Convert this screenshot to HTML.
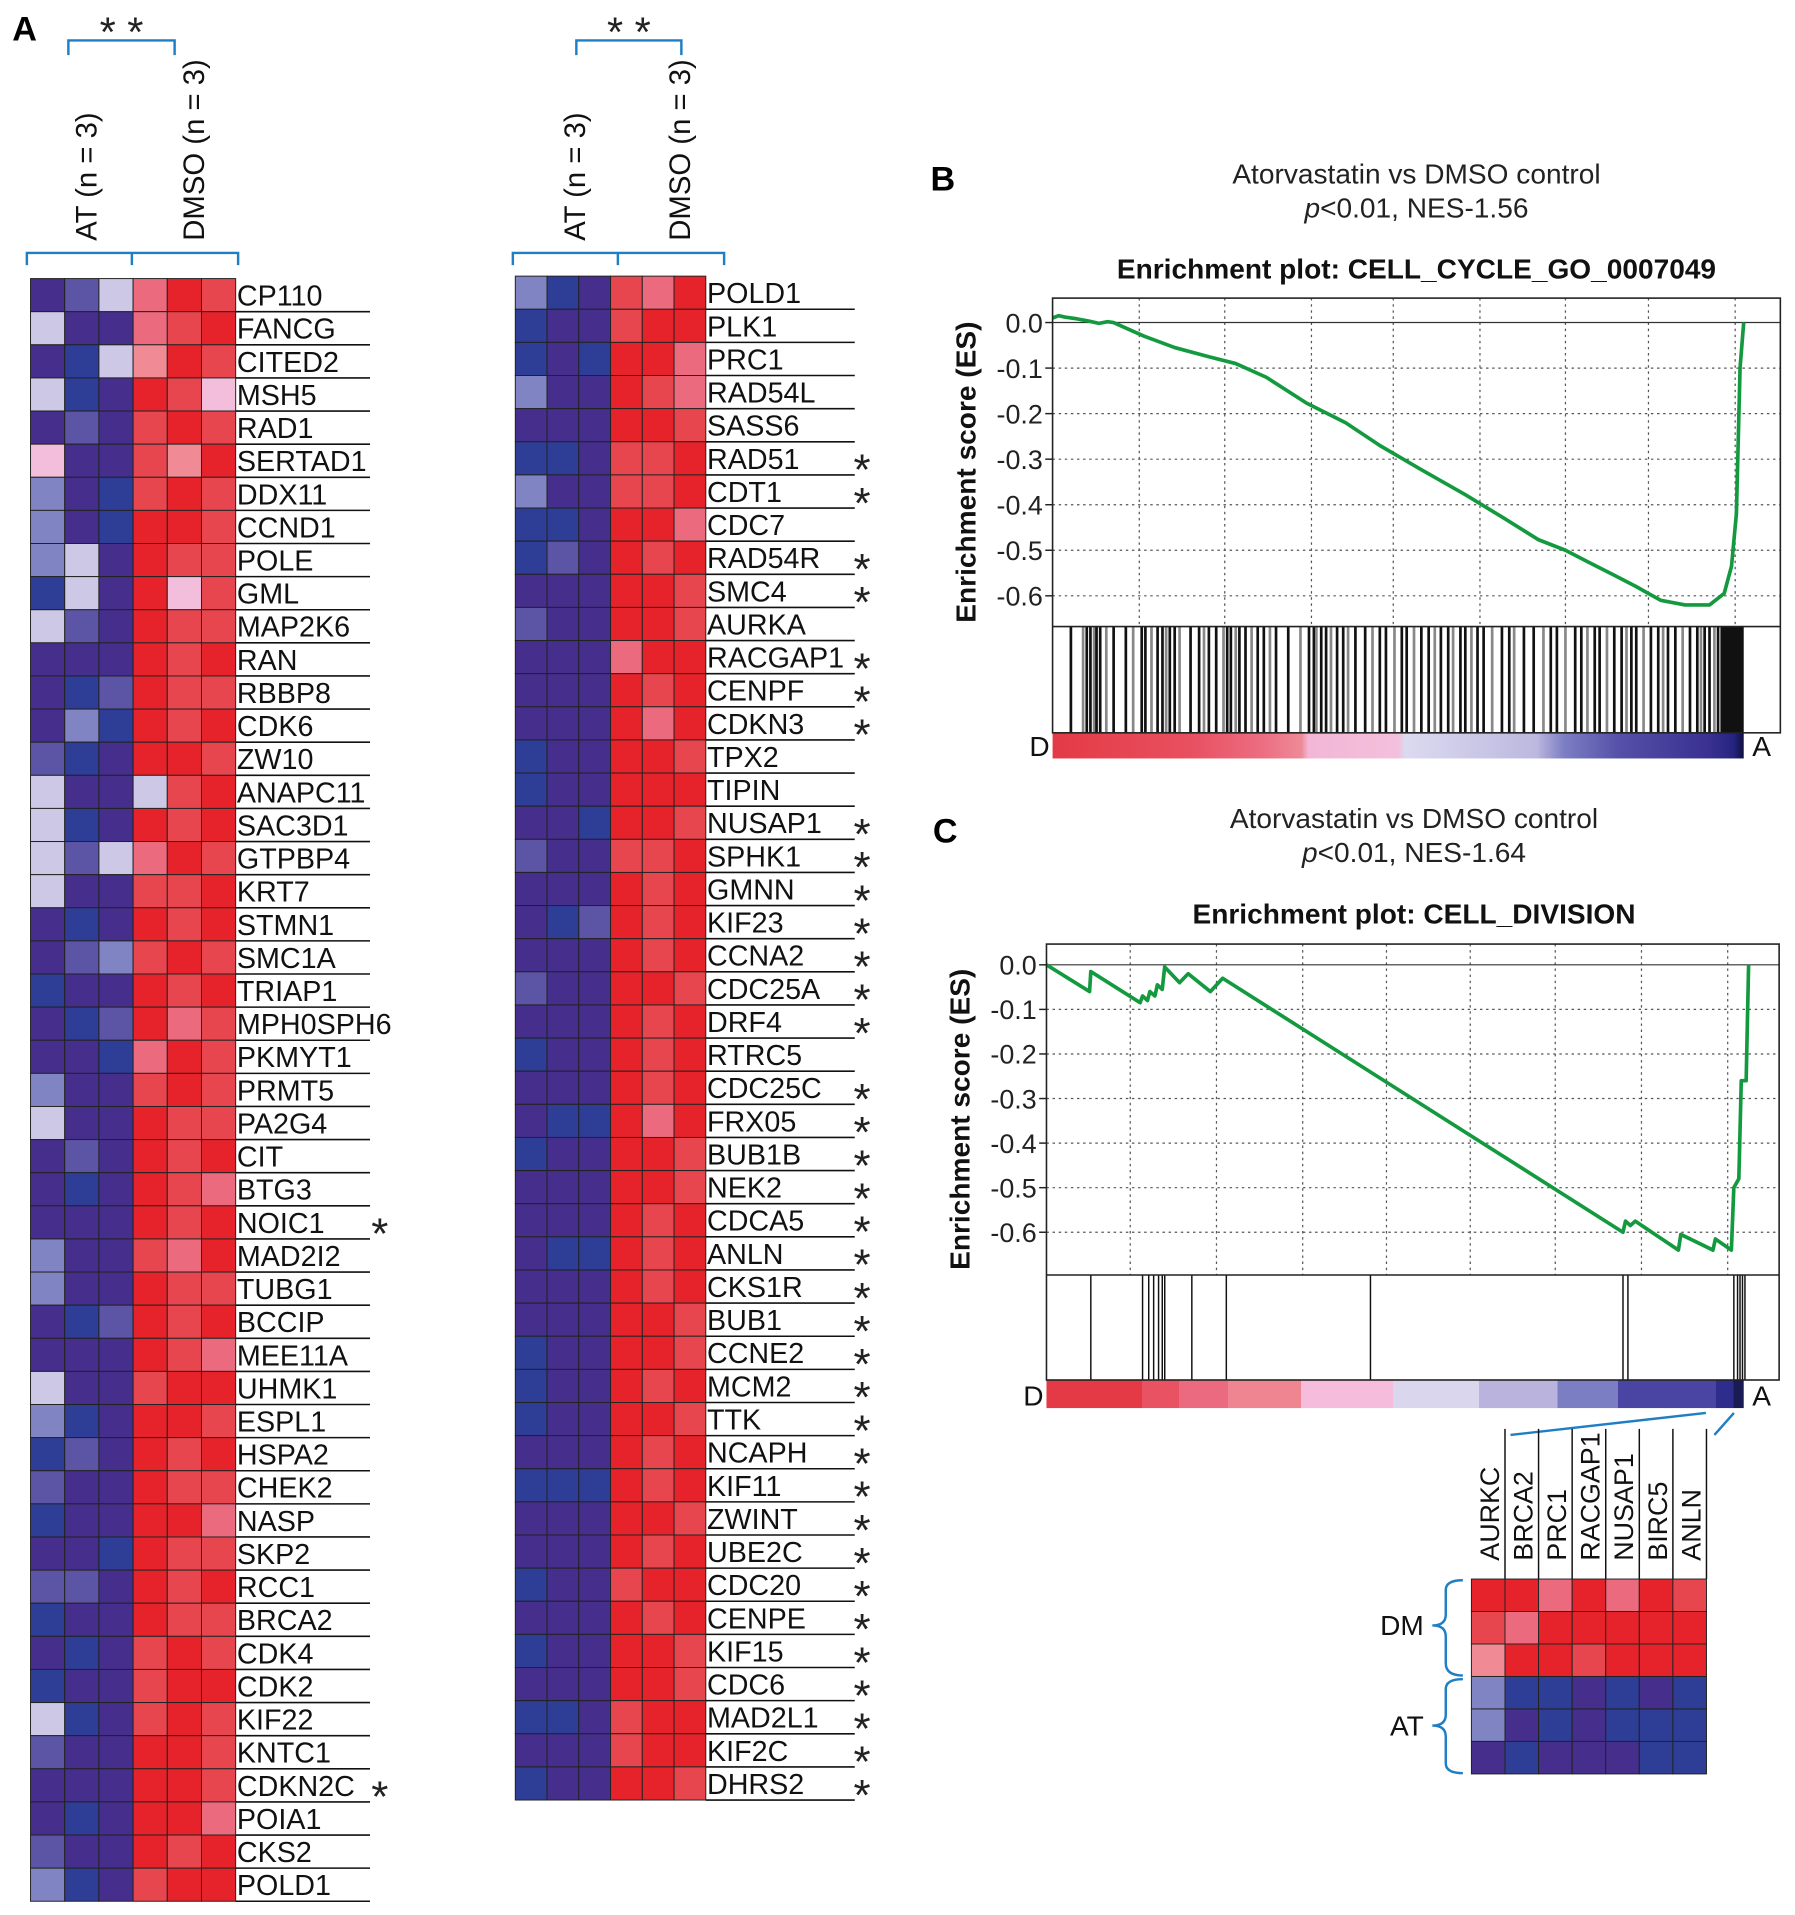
<!DOCTYPE html>
<html><head><meta charset="utf-8"><style>
html,body{margin:0;padding:0;background:#fff;}
svg{display:block;font-family:"Liberation Sans",Arial,sans-serif;}
</style></head><body>
<svg id="fig" width="1795" height="1915" viewBox="0 0 1470 1568" xmlns="http://www.w3.org/2000/svg">
<rect width="1470" height="1568" fill="#fff"/>
<text x="10" y="33" font-size="28" font-weight="bold">A</text>
<text x="762" y="156" font-size="28" font-weight="bold">B</text>
<text x="764" y="690" font-size="28" font-weight="bold">C</text>
<g id="root"></g>
</svg>
<script>
// ---------- DATA ----------
const leftGenes=["CP110","FANCG","CITED2","MSH5","RAD1","SERTAD1","DDX11","CCND1","POLE","GML","MAP2K6","RAN","RBBP8","CDK6","ZW10","ANAPC11","SAC3D1","GTPBP4","KRT7","STMN1","SMC1A","TRIAP1","MPH0SPH6","PKMYT1","PRMT5","PA2G4","CIT","BTG3","NOIC1","MAD2I2","TUBG1","BCCIP","MEE11A","UHMK1","ESPL1","HSPA2","CHEK2","NASP","SKP2","RCC1","BRCA2","CDK4","CDK2","KIF22","KNTC1","CDKN2C","POIA1","CKS2","POLD1"];
const leftCells=["DMWpRr","WDDprR","DBWqRr","WBDRrP","DMDrRr","PDDrqR","LDBrRr","LDBRRr","LWDRrr","BWDRPr","WMDRrr","DDDRrR","DBMRrr","DLBRrR","MBDRRr","WDDWrR","WBDRrR","WMWpRr","WDDrrR","DBDRrR","DMLrRr","BDDRrR","DBMRpr","DDBpRr","LDDrRr","WDDRrr","DMDRrR","DBDRrp","DDDRrR","LDDrpR","LDDRrr","DBMRrR","DDDRrp","WDDrRR","LBDRRr","BMDRrR","MDDRrr","BDDRRp","DDBRrr","MMDRrR","BDDRrr","DBDrRr","BDDrRR","WBDrRr","MDDRRr","DDDRRr","DBDRRp","MDDRrR","LBDrRR"];
const leftStars=["NOIC1","CDKN2C"];
const rightGenes=["POLD1","PLK1","PRC1","RAD54L","SASS6","RAD51","CDT1","CDC7","RAD54R","SMC4","AURKA","RACGAP1","CENPF","CDKN3","TPX2","TIPIN","NUSAP1","SPHK1","GMNN","KIF23","CCNA2","CDC25A","DRF4","RTRC5","CDC25C","FRX05","BUB1B","NEK2","CDCA5","ANLN","CKS1R","BUB1","CCNE2","MCM2","TTK","NCAPH","KIF11","ZWINT","UBE2C","CDC20","CENPE","KIF15","CDC6","MAD2L1","KIF2C","DHRS2"];
const rightCells=["LBDrpR","BDDrRR","BDBRRp","LDDRrp","DDDRRr","BBDrrR","LDDrrR","BBDRRp","BMDRrR","DDDRRr","MDDRRr","DDDpRR","DDDRrR","DDDRpR","BDDRRr","BDDRRR","DDBRRr","MDDrrR","DDDRrR","DBMRrR","DDDRrR","MDDRRr","DDDRrR","BDDRrR","DDDRrR","DBBRpR","BDDRRr","DDDRRr","DDDRrR","DBBRrR","DDDRrR","DDDRRr","BDDRRr","BDDRrR","BDDRRr","DDDRrR","BBBRrR","DDDRRr","DDDRrR","BDDrRR","DDDRrR","BDDRRr","DDDRRr","BBDrRR","DDDrRR","BDDRRr"];
const rightStars=["RAD51","CDT1","RAD54R","SMC4","RACGAP1","CENPF","CDKN3","NUSAP1","SPHK1","GMNN","KIF23","CCNA2","CDC25A","DRF4","CDC25C","FRX05","BUB1B","NEK2","CDCA5","ANLN","CKS1R","BUB1","CCNE2","MCM2","TTK","NCAPH","KIF11","ZWINT","UBE2C","CDC20","CENPE","KIF15","CDC6","MAD2L1","KIF2C","DHRS2"];
const smallGenes=["AURKC","BRCA2","PRC1","RACGAP1","NUSAP1","BIRC5","ANLN"];
const smallCells=["RRpRpRr","rpRRRRR","qRRrRRR","LBBDBDB","LDBDBBB","DBDDDBB"];
const esTicks=[0.0,-0.1,-0.2,-0.3,-0.4,-0.5,-0.6];
const esTickLabels=["0.0","-0.1","-0.2","-0.3","-0.4","-0.5","-0.6"];
const rankB=[0,5,10,20,30,38,45,50,60,75,100,128,150,175,208,240,268,300,338,370,398,420,438,460,478,498,518,538,550,556,560,563,566];
const esB=[0.01,0.015,0.012,0.008,0.003,-0.002,0.002,0.0,-0.012,-0.03,-0.055,-0.075,-0.09,-0.12,-0.177,-0.22,-0.27,-0.32,-0.378,-0.43,-0.477,-0.5,-0.525,-0.555,-0.58,-0.61,-0.62,-0.62,-0.595,-0.535,-0.42,-0.1,0.0];
const hitsB=[15,25,28,31,34,36,39,44,50,60,66,73,76,81,86,90,93,96,100,104,113,120,124,128,134,140,143,146,150,153,158,163,168,173,178,183,193,203,210,214,216,220,224,228,233,238,242,248,256,262,268,273,280,286,290,296,302,308,313,318,324,328,334,338,343,348,353,360,368,374,378,386,394,402,408,413,420,428,433,438,444,448,454,460,466,470,474,478,484,490,496,500,504,510,516,522,528,531,534,538,542,545,548,551,554,557,560,563];
const rankC=[0,35,36,76,78,82,84,88,90,94,96,108,115,133,143,468,470,474,478,513,515,541,543,556,558,562,564,568,570];
const esC=[0,-0.06,-0.015,-0.085,-0.07,-0.08,-0.06,-0.07,-0.045,-0.055,-0.005,-0.04,-0.02,-0.06,-0.03,-0.6,-0.575,-0.585,-0.575,-0.64,-0.605,-0.64,-0.615,-0.64,-0.5,-0.48,-0.26,-0.26,0.0];
const hitsC=[36,78,83,87,91,94,96,118,146,263,468,472,558,561,563,565,567];

const COL={D:"#452e8c",B:"#2e3d96",M:"#5c55a6",L:"#8084c2",W:"#ccc8e5",P:"#f2bedb",R:"#e6232a",r:"#e8464f",p:"#ec6a7e",q:"#f08b96"};
const NS="http://www.w3.org/2000/svg";
const root=document.getElementById('root');
function el(tag,attrs,parent){const e=document.createElementNS(NS,tag);for(const k in attrs)e.setAttribute(k,attrs[k]);(parent||root).appendChild(e);return e;}
function txt(s,attrs,parent){const e=el('text',attrs,parent);e.textContent=s;return e;}

// ---------- HEATMAPS ----------
function heatmap(name,x0,y0,cw,rh,genes,cells,stars,lineEnd,starX){
  const g=el('g',{});
  
  
  const xCol=i=>x0+i*cw, yRow=j=>y0+j*rh;
  genes.forEach((gn,j)=>{
    for(let i=0;i<6;i++){
      const r=el('rect',{x:xCol(i),y:yRow(j),width:cw,height:rh,fill:COL[cells[j][i]],stroke:"#222","stroke-width":0.8},g);
      
      
    }
    const t=txt(gn,{x:xCol(6)+1,y:yRow(j)+rh-5,"font-size":23.5,fill:"#111"},g);
    
    
    el('line',{x1:xCol(6),x2:lineEnd,y1:yRow(j+1),y2:yRow(j+1),stroke:"#111","stroke-width":1.3},g);
    if(stars.includes(gn)){
      const s=txt("*",{x:starX,y:yRow(j)+rh+8,"font-size":36,fill:"#222"},g);
      
      
    }
  });
}
heatmap('heatmap-left',25,228,28,27.12,leftGenes,leftCells,leftStars,303,304);
heatmap('heatmap-right',422,226,26,27.13,rightGenes,rightCells,rightStars,700,699);

// headers and brackets
function header(name,xAT,xDM,bx0,bx1,bxm,tb0,tb1){
  const g=el('g',{});
  
  
  const b="#1f7fc4";
  el('path',{d:`M${bx0} 217 V207 H${bx1} V217 M${bxm} 207 V217`,fill:"none",stroke:b,"stroke-width":2},g);
  el('path',{d:`M${tb0} 45 V33 H${tb1} V45`,fill:"none",stroke:b,"stroke-width":2},g);
  txt("* *",{x:(tb0+tb1)/2,y:38,"font-size":34,"text-anchor":"middle",fill:"#222"},g);
  txt("AT (n = 3)",{x:0,y:0,"font-size":24,transform:`translate(${xAT},197) rotate(-90)`,fill:"#111"},g);
  txt("DMSO (n = 3)",{x:0,y:0,"font-size":24,transform:`translate(${xDM},197) rotate(-90)`,fill:"#111"},g);
}
header('header-left',79,167,22,195,108,56,143);
header('header-right',479,565,420,593,506,472,558);

// ---------- GSEA PLOTS ----------
function gsea(name,px0,py0,px1,pyAxisBot,hitsBot,barBot,xMax,es0y,tickStep,ranks,es,hits,grid,barStops,titleY,nes,plotTitle,cx){
  const g=el('g',{});
  
  
  const rankEnd=px0+xMax;
  const xs=r=>px0+r*(rankEnd-px0)/566;
  const ys=v=>es0y+(v/-0.1)*tickStep;
  txt("Atorvastatin vs DMSO control",{x:cx,y:titleY,"font-size":23,"text-anchor":"middle",fill:"#222"},g);
  const t2=txt("",{x:cx,y:titleY+28,"font-size":23,"text-anchor":"middle",fill:"#222"},g);
  t2.innerHTML='<tspan font-style="italic">p</tspan>&lt;0.01, NES-'+nes;
  txt(plotTitle,{x:cx,y:titleY+78,"font-size":23,"font-weight":"bold","text-anchor":"middle",fill:"#111"},g);
  grid.forEach(r=>el('line',{x1:xs(r),x2:xs(r),y1:py0,y2:pyAxisBot,stroke:"#555","stroke-width":1,"stroke-dasharray":"2,3"},g));
  esTicks.forEach((v,i)=>{
    if(i>0)el('line',{x1:px0,x2:px1,y1:ys(v),y2:ys(v),stroke:"#555","stroke-width":1,"stroke-dasharray":"2,3"},g);
    el('line',{x1:px0-6,x2:px0,y1:ys(v),y2:ys(v),stroke:"#222","stroke-width":1.2},g);
    const tl=txt(esTickLabels[i],{x:px0-8,y:ys(v)+8,"font-size":22,"text-anchor":"end",fill:"#222"},g);
    
    
  });
  el('line',{x1:px0,x2:px1,y1:ys(0),y2:ys(0),stroke:"#333","stroke-width":1},g);
  const yl=txt("Enrichment score (ES)",{x:0,y:0,"font-size":23,"font-weight":"bold","text-anchor":"middle",fill:"#111",transform:`translate(${px0-63},${(py0+pyAxisBot)/2+8}) rotate(-90)`},g);
  
  
  hits.forEach((h,i)=>{
    const l=el('line',{x1:xs(h),x2:xs(h),y1:pyAxisBot,y2:hitsBot,stroke:(name==='gsea-b'&&i%3===1)?"#888":"#111","stroke-width":name==='gsea-b'?2.2:1.2},g);
    
    
  });
  if(name==='gsea-b'){el('rect',{x:xs(548),y:pyAxisBot,width:rankEnd-xs(548),height:hitsBot-pyAxisBot,fill:"#111"},g);}
  const gid=name+'-grad';
  const defs=el('defs',{},g);
  const lg=el('linearGradient',{id:gid,x1:0,x2:1,y1:0,y2:0},defs);
  barStops.forEach(s=>el('stop',{offset:s[0],'stop-color':s[1]},lg));
  el('rect',{x:px0,y:hitsBot,width:rankEnd-px0,height:barBot-hitsBot,fill:`url(#${gid})`},g);
  txt("D",{x:px0-19,y:barBot-2,"font-size":23,fill:"#111"},g);
  txt("A",{x:rankEnd+7,y:barBot-2,"font-size":23,fill:"#111"},g);
  const pts=ranks.map((r,i)=>xs(r).toFixed(1)+','+ys(es[i]).toFixed(1)).join(' ');
  const pl=el('polyline',{points:pts,fill:"none",stroke:"#139a3f","stroke-width":3,"stroke-linejoin":"round"},g);
  
  
  el('rect',{x:px0,y:py0,width:px1-px0,height:hitsBot-py0,fill:"none",stroke:"#222","stroke-width":1.3},g);
  el('line',{x1:px0,x2:px1,y1:pyAxisBot,y2:pyAxisBot,stroke:"#222","stroke-width":1.3},g);
}
gsea('gsea-b',862,244,1458,513,600,621,566,264,37.3,rankB,esB,hitsB,[71,141,212,279,350,420,488,559],
 [[0,"#e43a45"],[0.2,"#e85060"],[0.3,"#ec6c80"],[0.36,"#ee8a96"],[0.37,"#f3b6d6"],[0.5,"#f3c0dc"],[0.51,"#dcdaf0"],[0.7,"#bcb8df"],[0.74,"#7c7ec4"],[0.82,"#5550a8"],[0.95,"#3a3090"],[0.985,"#252580"],[1,"#101040"]],
 150,"1.56","Enrichment plot: CELL_CYCLE_GO_0007049",1160);
gsea('gsea-c',857,773,1457,1044,1130,1153,571,790,36.5,rankC,esC,hitsC,[68,138,208,276,344,413,483,553],
 [[0,"#e43a45"],[0.137,"#e43a45"],[0.137,"#e95262"],[0.19,"#e95262"],[0.19,"#ec6a7f"],[0.26,"#ec6a7f"],[0.26,"#ef8590"],[0.365,"#ef8590"],[0.365,"#f5bddb"],[0.497,"#f5bddb"],[0.497,"#d9d6ee"],[0.62,"#d9d6ee"],[0.62,"#b9b3de"],[0.733,"#b9b3de"],[0.733,"#7c7ec4"],[0.82,"#7c7ec4"],[0.82,"#4a45a3"],[0.96,"#4a45a3"],[0.96,"#2e2c8c"],[0.985,"#2e2c8c"],[0.985,"#1a1a55"],[1,"#1a1a55"]],
 678,"1.64","Enrichment plot: CELL_DIVISION",1158);

// ---------- SMALL HEATMAP (C) ----------
(function(){
  const g=el('g',{});
  
  
  const x0=1205,y0=1293,cw=27.5,rh=26.6,b="#1f7fc4";
  el('line',{x1:1237,y1:1175,x2:1397,y2:1157,stroke:b,"stroke-width":2},g);
  el('line',{x1:1404,y1:1175,x2:1420,y2:1157,stroke:b,"stroke-width":2},g);
  smallGenes.forEach((gn,i)=>{
    const x=x0+i*cw;
    if(i>0)el('line',{x1:x,x2:x,y1:1170,y2:y0,stroke:"#111","stroke-width":1.2},g);
    const t=txt(gn,{x:0,y:0,"font-size":22,fill:"#111",transform:`translate(${x+cw-5},1278) rotate(-90)`},g);
    
    
  });
  el('line',{x1:x0+7*cw,x2:x0+7*cw,y1:1170,y2:y0,stroke:"#111","stroke-width":1.2},g);
  smallCells.forEach((row,j)=>{for(let i=0;i<7;i++){
    const r=el('rect',{x:x0+i*cw,y:y0+j*rh,width:cw,height:rh,fill:COL[row[i]],stroke:"#222","stroke-width":0.8},g);
    
    
  }});
  el('path',{d:"M1198 1294 Q1184 1294 1184 1302 V1322 Q1184 1331 1173 1331 Q1184 1331 1184 1340 V1362 Q1184 1372 1198 1372",fill:"none",stroke:b,"stroke-width":2},g);
  el('path',{d:"M1198 1375 Q1184 1375 1184 1383 V1404 Q1184 1413 1173 1413 Q1184 1413 1184 1422 V1444 Q1184 1452 1198 1452",fill:"none",stroke:b,"stroke-width":2},g);
  txt("DM",{x:1166,y:1339,"font-size":23,"text-anchor":"end",fill:"#111"},g);
  txt("AT",{x:1166,y:1421,"font-size":23,"text-anchor":"end",fill:"#111"},g);
})();
</script>
</body></html>
